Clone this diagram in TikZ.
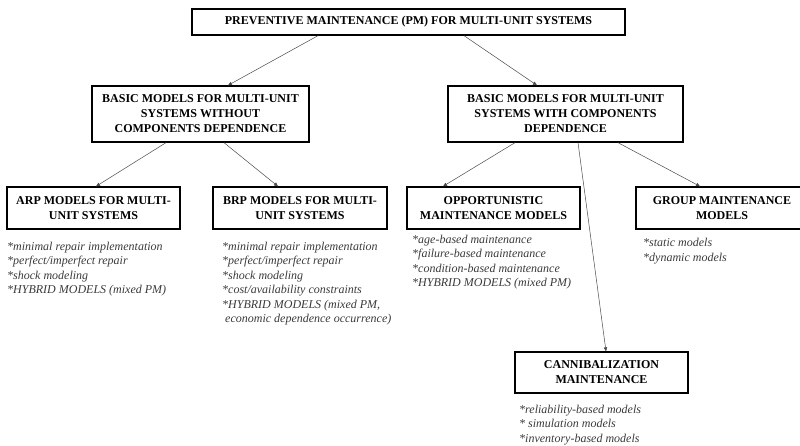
\documentclass[tikz,border=0pt]{standalone}
\usepackage{fontspec}
\setmainfont{Liberation Serif}
\usetikzlibrary{arrows.meta}
\definecolor{listgray}{HTML}{3A3A3A}
\definecolor{arrgray}{HTML}{4A4A4A}

\begin{document}
\begin{tikzpicture}[x=1pt, y=-1pt,
      box/.style={draw, black, line width=1.3pt, inner sep=0pt, align=center,
        font=\fontsize{12}{15}\selectfont\bfseries},
      items/.style={anchor=north west, inner sep=0pt, align=left, text=listgray,
        font=\fontsize{12}{14.5}\selectfont\itshape},
      arr/.style={-{Triangle[length=4pt, width=3.4pt]}, line width=0.5pt, arrgray},
    ]
    \clip (0,0) rectangle (800,445);
    % --- the boxes ------------------------------------------------------
    \node[box, minimum width=433pt, minimum height=26pt] (pm) at (408.5,22)
      {PREVENTIVE MAINTENANCE (PM) FOR MULTI-UNIT SYSTEMS};
    \node[box, minimum width=217pt, minimum height=56pt] (indep) at (200.5,114)
      {BASIC MODELS FOR MULTI-UNIT\\ SYSTEMS WITHOUT\\ COMPONENTS DEPENDENCE};
    \node[box, minimum width=235pt, minimum height=56pt] (dep) at (565.5,114)
      {BASIC MODELS FOR MULTI-UNIT\\ SYSTEMS WITH COMPONENTS\\ DEPENDENCE};
    \node[box, minimum width=173pt, minimum height=42pt] (arp) at (93.5,208)
      {ARP MODELS FOR MULTI-\\ UNIT SYSTEMS};
    \node[box, minimum width=174pt, minimum height=42pt] (brp) at (300,208)
      {BRP MODELS FOR MULTI-\\ UNIT SYSTEMS};
    \node[box, minimum width=173pt, minimum height=42pt] (opp) at (493.5,208)
      {OPPORTUNISTIC\\ MAINTENANCE MODELS};
    \node[box, minimum width=172pt, minimum height=42pt] (grp) at (722,208)
      {GROUP MAINTENANCE\\ MODELS};
    \node[box, minimum width=173pt, minimum height=41pt] (cann) at (601.5,372.5)
      {CANNIBALIZATION\\ MAINTENANCE};
    % --- the lists under the boxes --------------------------------------
    \node[items] (arpl) at (7,241.5)
      {*minimal repair implementation\\ *perfect/imperfect repair\\
       *shock modeling\\ *HYBRID MODELS (mixed PM)};
    \node[items] (brpl) at (222,241.5)
      {*minimal repair implementation\\ *perfect/imperfect repair\\
       *shock modeling\\ *cost/availability constraints\\
       *HYBRID MODELS (mixed PM,\\ \ economic dependence occurrence)};
    \node[items] (oppl) at (412,234.5)
      {*age-based maintenance\\ *failure-based maintenance\\
       *condition-based maintenance\\ *HYBRID MODELS (mixed PM)};
    \node[items] (grpl) at (643,238)
      {*static models\\ *dynamic models};
    \node[items] (cannl) at (519,404.5)
      {*reliability-based models\\ * simulation models\\ *inventory-based models};
    % --- arrows ---------------------------------------------------------
    \draw[arr] ([xshift=-90.5pt]pm.south) -- ([xshift=27.5pt]indep.north);
    \draw[arr] ([xshift=55.5pt]pm.south) -- ([xshift=-28.5pt]dep.north);
    \draw[arr] ([xshift=-34.5pt]indep.south) -- ([xshift=2.5pt]arp.north);
    \draw[arr] ([xshift=23.5pt]indep.south) -- ([xshift=-22pt]brp.north);
    \draw[arr] ([xshift=-50.5pt]dep.south) -- ([xshift=-50.5pt]opp.north);
    \draw[arr] ([xshift=12.5pt]dep.south) -- ([xshift=4.5pt]cann.north);
    \draw[arr] ([xshift=52.5pt]dep.south) -- ([xshift=-22pt]grp.north);
  \end{tikzpicture}
\end{document}
